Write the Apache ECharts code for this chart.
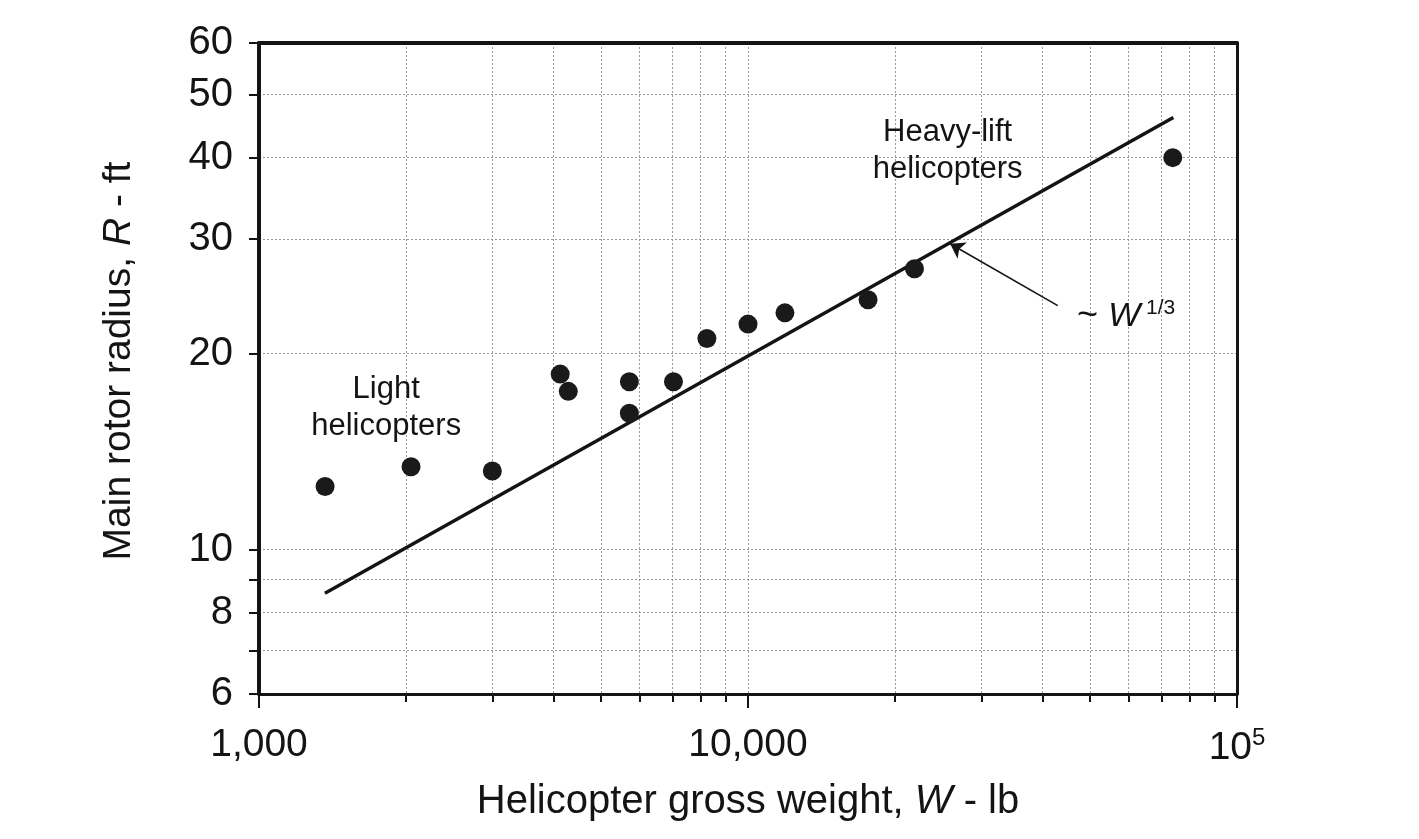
<!DOCTYPE html>
<html>
<head>
<meta charset="utf-8">
<script src="https://cdn.jsdelivr.net/npm/echarts@6/dist/echarts.min.js"></script>
<style>
html,body{margin:0;padding:0;background:#fff;}
#chart{width:1419px;height:839px;}
</style>
</head>
<body>
<div id="chart"></div>
<script>
// ---- data ----
const weights = [1365, 2046, 3000, 4130, 4290, 5720, 5720, 7040, 8240, 10000, 11900, 17600, 21900, 73900];
const radii   = [12.5, 13.4, 13.2, 18.6, 17.5, 18.1, 16.2, 18.1, 21.1, 22.2, 23.1, 24.2, 27.0, 40.0];
const trendW = [1364, 74100];
const trendR = [8.57, 46.1];
const xLabelValues = [1000, 10000, 100000];
const xTickValues = [1000, 2000, 3000, 4000, 5000, 6000, 7000, 8000, 9000, 10000, 20000, 30000, 40000, 50000, 60000, 70000, 80000, 90000, 100000];
const yLabelValues = [6, 8, 10, 20, 30, 40, 50, 60];
const yTickValues = [6, 7, 8, 9, 10, 20, 30, 40, 50, 60];
const arrowFrom = [43000, 23.7];
const arrowTo = [25900, 29.5];
const notes = [
  {text: 'Light\nhelicopters', at: [1820, 16.5]},
  {text: 'Heavy-lift\nhelicopters', at: [25600, 40.9]}
];
const powerNote = {at: [47100, 22.8]};

const FONT = '"Liberation Sans", Arial, Helvetica, sans-serif';
const INK = '#141414';
const GRIDC = '#9a9a9a';

const chart = echarts.init(document.getElementById('chart'));
const option = {
  backgroundColor: '#fff',
  animation: false,
  textStyle: {fontFamily: FONT, color: INK},
  grid: {left: 259, top: 43, right: 182, bottom: 145},
  xAxis: [{
    type: 'log', logBase: 10, min: 1000, max: 100000,
    name: 'Helicopter gross weight, {i|W} - lb',
    nameLocation: 'middle', nameGap: 88,
    nameTextStyle: {fontFamily: FONT, fontSize: 40, color: INK,
      rich: {i: {fontFamily: FONT, fontSize: 40, fontStyle: 'italic', color: INK}}},
    axisLine: {show: true, lineStyle: {color: INK, width: 3}},
    axisTick: {show: true, inside: false, length: 8, customValues: xTickValues, lineStyle: {color: INK, width: 2}},
    axisLabel: {show: true, customValues: xLabelValues, margin: 32, fontFamily: FONT, fontSize: 39, color: INK,
      formatter: function (v) {
        if (Math.abs(v - 100000) < 1) return '{b|10}{s|5}';
        return Math.round(v).toLocaleString('en-US');
      },
      rich: {b: {fontFamily: FONT, fontSize: 39, color: INK}, s: {fontFamily: FONT, fontSize: 24, color: INK, verticalAlign: 'top', padding: [0, 0, 20, 0]}}
    },
    splitLine: {show: true, lineStyle: {color: GRIDC, width: 1, type: [2, 2]}}
  }, {
    type: 'log', logBase: 10, min: 1000, max: 100000, position: 'bottom',
    axisLine: {show: false},
    axisTick: {show: true, length: 14, customValues: xLabelValues, lineStyle: {color: INK, width: 2}},
    axisLabel: {show: false},
    splitLine: {show: false}
  }, {
    type: 'log', logBase: 10, min: 1000, max: 100000, position: 'top',
    axisLine: {show: true, lineStyle: {color: INK, width: 4}},
    axisTick: {show: false}, axisLabel: {show: false}, splitLine: {show: false}
  }],
  yAxis: [{
    type: 'log', logBase: 10, min: 6, max: 60,
    name: 'Main rotor radius, {i|R} - ft',
    nameLocation: 'middle', nameGap: 120, nameRotate: 90,
    nameTextStyle: {fontFamily: FONT, fontSize: 39, color: INK, padding: [0, 0, 0, 15],
      rich: {i: {fontFamily: FONT, fontSize: 39, fontStyle: 'italic', color: INK}}},
    axisLine: {show: true, lineStyle: {color: INK, width: 4}},
    axisTick: {show: true, length: 10, customValues: yTickValues, lineStyle: {color: INK, width: 2}},
    axisLabel: {show: true, customValues: yLabelValues, margin: 26, fontFamily: FONT, fontSize: 40, color: INK},
    splitLine: {show: true, lineStyle: {color: GRIDC, width: 1, type: [2, 2]}}
  }, {
    type: 'log', logBase: 10, min: 6, max: 60, position: 'right',
    axisLine: {show: true, lineStyle: {color: INK, width: 3}},
    axisTick: {show: false}, axisLabel: {show: false}, splitLine: {show: false}
  }],
  series: [
    {
      type: 'line', name: 'trend', xAxisIndex: 0, yAxisIndex: 0,
      data: trendW.map((w, i) => [w, trendR[i]]),
      showSymbol: false, symbol: 'none',
      lineStyle: {color: INK, width: 3.5, opacity: 1}, z: 3
    },
    {
      type: 'scatter', name: 'helicopters', xAxisIndex: 0, yAxisIndex: 0,
      data: weights.map((w, i) => [w, radii[i]]),
      symbol: 'circle', symbolSize: 19,
      itemStyle: {color: '#1a1a1a', opacity: 1}, z: 4
    },
    {
      type: 'lines', coordinateSystem: 'cartesian2d', xAxisIndex: 0, yAxisIndex: 0,
      data: [{coords: [arrowFrom, arrowTo]}],
      symbol: ['none', 'arrow'], symbolSize: 14,
      lineStyle: {color: INK, width: 1.6, opacity: 1}, z: 5
    },
    {
      type: 'scatter', name: 'notes', xAxisIndex: 0, yAxisIndex: 0,
      data: notes.map(n => ({value: n.at, name: n.text})),
      symbolSize: 0, silent: true, itemStyle: {opacity: 1},
      label: {show: true, position: 'inside', formatter: p => p.name, fontFamily: FONT, fontSize: 31, lineHeight: 37, color: INK, opacity: 1, align: 'center', verticalAlign: 'middle'},
      z: 6
    },
    {
      type: 'scatter', name: 'power', xAxisIndex: 0, yAxisIndex: 0,
      data: [{value: powerNote.at, name: 'power'}],
      symbolSize: 0, silent: true, itemStyle: {opacity: 1},
      label: {show: true, position: 'inside', align: 'left', verticalAlign: 'middle', opacity: 1,
        formatter: '{t|~ }{w|W}{s| 1/3}',
        rich: {
          t: {fontFamily: FONT, fontSize: 36, color: INK},
          w: {fontFamily: FONT, fontSize: 34, fontStyle: 'italic', color: INK},
          s: {fontFamily: FONT, fontSize: 21, color: INK, verticalAlign: 'top', padding: [0, 0, 16, 0]}
        }},
      z: 6
    }
  ]
};
chart.setOption(option);
</script>
</body>
</html>
